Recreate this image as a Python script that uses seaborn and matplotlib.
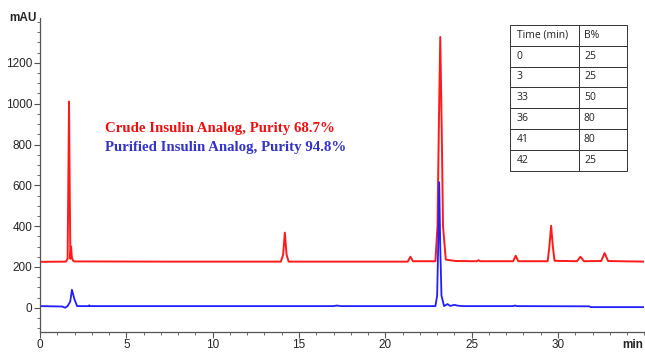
import matplotlib
matplotlib.use("Agg")
import matplotlib.pyplot as plt
from matplotlib.ticker import MultipleLocator
import seaborn as sns
import pandas as pd

# crude trace (time in min, signal in mAU)
crude_time = [0, 1.5, 1.6, 1.64, 1.68, 1.72, 1.76, 1.8, 1.84, 1.9, 1.98, 7.5, 13.95, 14.08,
              14.18, 14.28, 14.4, 21.3, 21.45, 21.6, 22.9, 23.02, 23.1, 23.18, 23.26, 23.34,
              23.5, 23.8, 24.1, 25.3, 25.4, 25.5, 27.4, 27.55, 27.7, 29.4, 29.5, 29.6, 29.7,
              29.8, 31.1, 31.3, 31.5, 32.5, 32.7, 32.9, 35]
crude_mau = [225, 226, 240, 600, 1010, 600, 240, 300, 250, 232, 227, 226, 226, 260,
             368, 260, 226, 226, 250, 228, 228, 400, 900, 1327, 900, 400,
             236, 232, 229, 228, 233, 228, 228, 255, 228, 228, 300, 402, 300,
             230, 228, 250, 228, 229, 268, 229, 226]

# purified trace
pure_time = [0, 1.3, 1.45, 1.6, 1.75, 1.85, 2.0, 2.15, 2.8, 2.85, 2.9, 9.0, 17.0, 17.2,
             17.4, 22.9, 23.0, 23.06, 23.12, 23.18, 23.25, 23.4, 23.6, 23.75, 24.0, 24.2,
             24.5, 27.4, 27.5, 27.6, 31.8, 31.9, 35]
pure_mau = [8, 6, 0, 8, 30, 88, 40, 8, 8, 12, 8, 8, 8, 11,
            8, 8, 60, 300, 615, 300, 60, 8, 18, 9, 14, 10,
            8, 8, 11, 8, 7, 3, 3]

gradient_time = ["0", "3", "33", "36", "41", "42"]
gradient_b = ["25", "25", "50", "80", "80", "25"]

crude = pd.DataFrame({"t": crude_time, "mau": crude_mau})
pure = pd.DataFrame({"t": pure_time, "mau": pure_mau})

sns.set_theme(style="ticks")
plt.rcParams["font.family"] = ["Liberation Sans", "DejaVu Sans"]

fig = plt.figure(figsize=(6.45, 3.53), dpi=100)
ax = fig.add_axes([0.062, 0.060, 0.937, 0.889])

sns.lineplot(data=crude, x="t", y="mau", color="#ff1a1a", linewidth=1.4,
             estimator=None, sort=False, ax=ax)
sns.lineplot(data=pure, x="t", y="mau", color="#1f1fff", linewidth=1.3,
             estimator=None, sort=False, ax=ax)

ax.set_xlim(0, 35)
ax.set_ylim(-118, 1420)
ax.set_xticks([0, 5, 10, 15, 20, 25, 30])
ax.xaxis.set_minor_locator(MultipleLocator(1))
ax.set_yticks([0, 200, 400, 600, 800, 1000, 1200])
ax.yaxis.set_minor_locator(MultipleLocator(50))
ax.set_xlabel("")
ax.set_ylabel("")
sns.despine(ax=ax)
for s in ("left", "bottom"):
    ax.spines[s].set_color("#555555")
    ax.spines[s].set_linewidth(0.9)
ax.tick_params(which="major", length=4, width=0.8, color="#555555", labelsize=8.5, pad=1.5)
ax.tick_params(which="minor", length=2.5, width=0.6, color="#555555")

ax.text(-0.005, 1.0, "mAU", transform=ax.transAxes, ha="right", va="center",
        fontsize=8.5, fontweight="bold")
ax.text(0.998, -0.022, "min", transform=ax.transAxes, ha="right", va="top",
        fontsize=8.5, fontweight="bold")

ax.text(0.107, 0.647, "Crude Insulin Analog, Purity 68.7%", transform=ax.transAxes,
        color="#ee1111", fontsize=10.7, fontweight="bold", family="Liberation Serif",
        va="center")
ax.text(0.107, 0.587, "Purified Insulin Analog, Purity 94.8%", transform=ax.transAxes,
        color="#3333cc", fontsize=10.7, fontweight="bold", family="Liberation Serif",
        va="center")

cells = [["Time (min)", "B%"]] + [[a, b] for a, b in zip(gradient_time, gradient_b)]
tbl = ax.table(cellText=cells, colWidths=[0.59, 0.41], cellLoc="left",
               bbox=[0.777, 0.514, 0.195, 0.464])
tbl.auto_set_font_size(False)
tbl.set_fontsize(7.5)
for (r, c), cell in tbl.get_celld().items():
    cell.set_edgecolor("#333333")
    cell.set_linewidth(0.7)
    cell.set_facecolor("white")
    cell.PAD = 0.1
    cell.get_text().set_family("Open Sans")
    cell.get_text().set_color("#222222")

fig.savefig("out.png", dpi=100)
